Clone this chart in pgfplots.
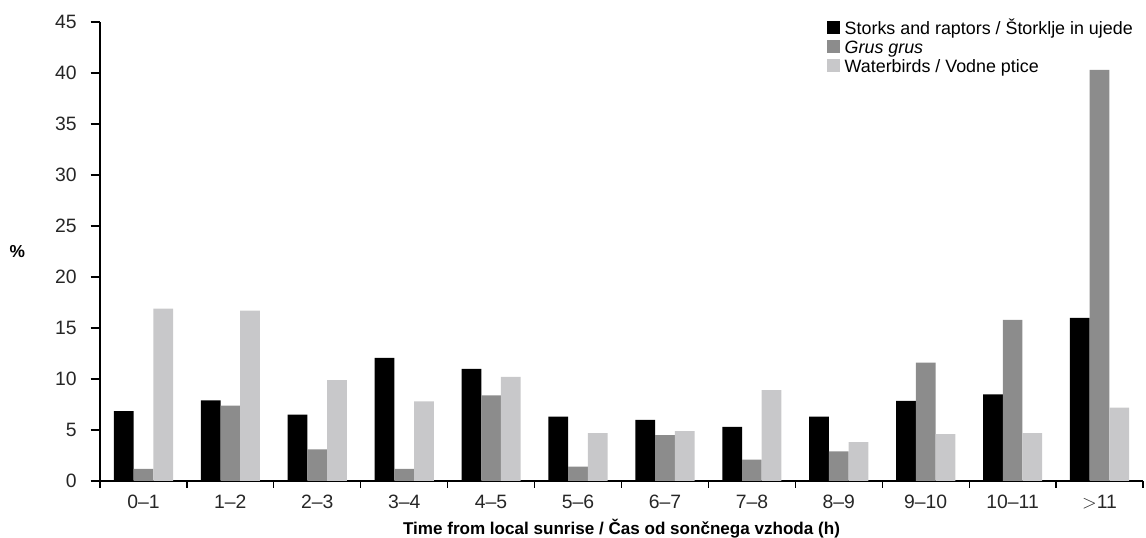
\documentclass[border=0pt]{standalone}
\usepackage{pgfplots}
\pgfplotsset{compat=1.18}
\usepackage{fontspec}
\setmainfont{Liberation Sans}
\definecolor{cA}{RGB}{0,0,0}
\definecolor{cB}{RGB}{140,140,140}
\definecolor{cC}{RGB}{200,200,202}
\begin{document}
\begin{tikzpicture}[x=1pt,y=1pt]
\begin{axis}[name=ax,
  scale only axis, width=782.25pt, height=344.25pt,
  ymin=0, ymax=45, ytick={0,5,...,45},
  xmin=-0.5, xmax=11.5,
  axis x line*=bottom, axis y line*=left,
  axis line style={black, line width=0.9pt},
  xtick={0,...,11},
  xticklabels={0--1,1--2,2--3,3--4,4--5,5--6,6--7,7--8,8--9,9--10,10--11,${>}$11},
  minor xtick={-0.5,0.5,...,11.5},
  major x tick style={draw=none},
  minor x tick style={black, line width=0.9pt},
  minor tick length=5pt,
  y tick style={black, line width=0.9pt},
  major tick length=7pt,
  tick align=outside,
  /pgf/number format/assume math mode=true,
  tick label style={font=\fontsize{14.5}{16}\selectfont, color=black!85},
  yticklabel style={xshift=-7pt},
  ybar=0pt, bar width=0.227,
  xlabel={\bfseries Time from local sunrise / Čas od sončnega vzhoda (h)},
  xlabel style={font=\fontsize{12.8}{14}\selectfont, yshift=-1pt},
  ylabel={\bfseries\%},
  ylabel style={font=\fontsize{13}{14}\selectfont, rotate=-90, at={(rel axis cs:0,0.5)}, anchor=center, xshift=-62pt},
  legend style={at={(1,1)}, anchor=north east, draw=none, fill=none,
    font=\fontsize{13.4}{15}\selectfont, row sep=-1.5pt, inner sep=0pt,
    xshift=-7.5pt, yshift=1.9pt,
    nodes={inner sep=0pt, text height=11pt, text depth=4.75pt},
    legend cell align=left},
  legend image code/.code={\fill[#1] (0pt,-3.1pt) rectangle (9.75pt,6.65pt); \path (13.5pt,0pt);},
]
\addplot[fill=cA, draw=none] coordinates {(0,6.86) (1,7.9) (2,6.5) (3,12.06) (4,11.0) (5,6.3) (6,6.0) (7,5.3) (8,6.3) (9,7.85) (10,8.5) (11,16.0)};
\addplot[fill=cB, draw=none] coordinates {(0,1.2) (1,7.4) (2,3.1) (3,1.2) (4,8.4) (5,1.4) (6,4.5) (7,2.1) (8,2.9) (9,11.6) (10,15.8) (11,40.3)};
\addplot[fill=cC, draw=none] coordinates {(0,16.9) (1,16.7) (2,9.9) (3,7.8) (4,10.2) (5,4.7) (6,4.9) (7,8.9) (8,3.8) (9,4.6) (10,4.7) (11,7.2)};
\legend{Storks and raptors / Štorklje in ujede, \textit{Grus grus}, Waterbirds / Vodne ptice}
\end{axis}
\pgfresetboundingbox
\useasboundingbox (ax.south west) ++(-75pt,-42.75pt) rectangle ++(859.5pt,403.5pt);
\end{tikzpicture}
\end{document}
